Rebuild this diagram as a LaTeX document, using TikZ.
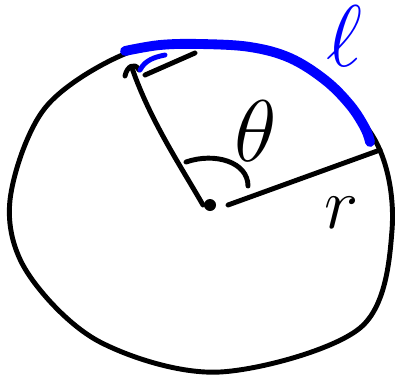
\documentclass[tikz,border=0pt]{standalone}
\usepackage{tikz}
\usetikzlibrary{arrows.meta}

\begin{document}
\begin{tikzpicture}[
    x=0.01cm, y=-0.01cm, % pixel-like units, y pointing down
    pen/.style={line width=1.4pt, line cap=round, line join=round},
    arcpen/.style={blue, line width=2.8pt, line cap=round}
]
    \useasboundingbox (0,0) rectangle (395,379);

    % Outline of the circle
    \draw[pen] plot[smooth cycle, tension=0.55] coordinates {
        (127,53) (205,44) (300,64) (375,140) (392,230) (360,328)
        (220,372) (100,342) (27,272) (10,200) (45,108)};

    % Centre
    \coordinate (O) at (210,205);
    \fill (O) circle (6);

    % Two radii
    \coordinate (A) at (132,68);
    \coordinate (B) at (380,150);
    \draw[pen] (203,205) .. controls (180,165) and (150,120) .. (A);
    \draw[pen] (228,205) -- (B);
    \draw[pen] (125,76) .. controls (127,66) and (135,62) .. (139,70); % tick
    \draw[pen] (145,75) -- (195,53);

    % Angle
    \draw[pen] (186,162) .. controls (215,152) and (248,162) .. (248,186);
    \node (theta) at (256,131) {\fontsize{24}{24}\selectfont$\theta$};

    % Arc length
    \draw[arcpen] plot[smooth, tension=0.6] coordinates {
        (125,51) (160,45) (200,44) (250,47) (290,58) (325,80)
        (350,105) (365,128) (370,142)};
    \draw[blue, line width=1.4pt, line cap=round]
        (140,70) .. controls (145,60) and (155,57) .. (165,55);
    \node[blue] (ell) at (344,36) {\fontsize{30}{30}\selectfont$\ell$};

    % Radius label
    \node (r) at (342,213) {\fontsize{22}{22}\selectfont$r$};

\end{tikzpicture}
\end{document}
